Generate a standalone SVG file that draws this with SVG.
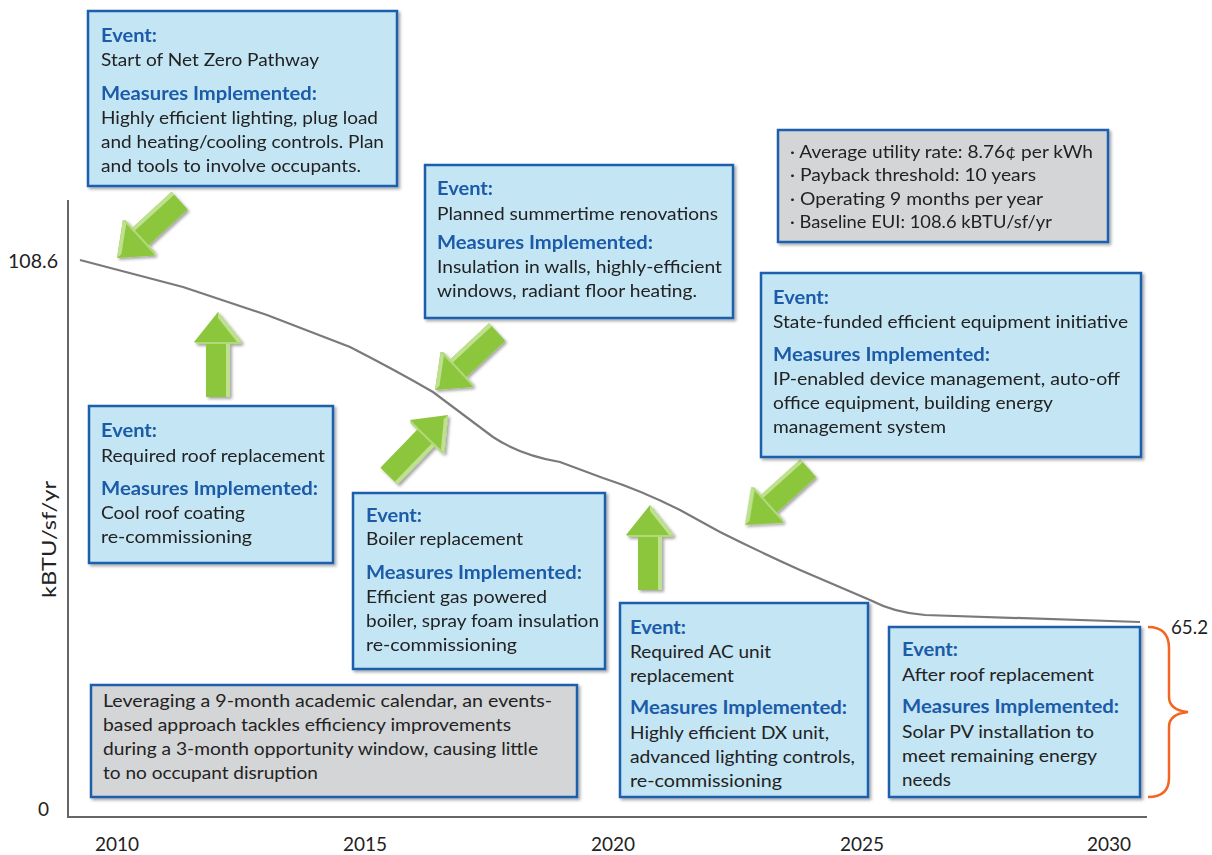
<svg xmlns="http://www.w3.org/2000/svg" width="1212" height="855" viewBox="0 0 1212 855">
<style>
.box{fill:#c4e5f4;stroke:#1b5fad;stroke-width:2.5;filter:url(#sh)}
.gbox{fill:#d4d5d7;stroke:#1b5fad;stroke-width:2.5;filter:url(#sh)}
text{font-family:Lato,"Liberation Sans",sans-serif;font-size:18px;fill:#222}
.h{font-weight:bold;fill:#1b5ba8}
.ax{font-size:19px;fill:#222}
</style>
<defs>
<filter id="sh" x="-10%" y="-10%" width="130%" height="130%">
<feDropShadow dx="2" dy="2" stdDeviation="1.5" flood-color="#000" flood-opacity="0.35"/>
</filter>
<g id="arrow">
<polygon points="0,0 24,30 12,30 12,85 -12,85 -12,30 -24,30" fill="#8cc63e"/>
<polygon points="0,0 24,30 19,30 0,6" fill="#bfe08f"/>
<polygon points="8,30 12,30 12,85 8,85" fill="#bfe08f"/>
<polygon points="-24,30 24,30 22,32 -21,32" fill="#b2d97a"/>
</g>
</defs>
<rect width="1212" height="855" fill="#fff"/>

<g id="axes" stroke="#666" stroke-width="2" fill="none">
<path d="M68,200 L68,817 L1147,817"/>
</g>
<g id="axis-labels">
<text class="ax" x="8" y="268" textLength="50" lengthAdjust="spacingAndGlyphs">108.6</text>
<text class="ax" x="38" y="816">0</text>
<text class="ax" x="1171" y="634" font-size="20" textLength="37" lengthAdjust="spacingAndGlyphs">65.2</text>
<text class="ax" transform="translate(56,598) rotate(-90)" textLength="117" lengthAdjust="spacingAndGlyphs">kBTU/sf/yr</text>
<text class="ax" x="117" y="851" text-anchor="middle">2010</text>
<text class="ax" x="365" y="851" text-anchor="middle">2015</text>
<text class="ax" x="613" y="851" text-anchor="middle">2020</text>
<text class="ax" x="862" y="851" text-anchor="middle">2025</text>
<text class="ax" x="1109" y="851" text-anchor="middle">2030</text>
</g>

<g id="connectors">
<path id="curve" d="M80,260 L183,287 L267,315 L350,347 Q395,370 433,392 L493,437 Q520,455 560,462 L603,478 Q640,490 680,510 L720,532 Q760,552 800,570 L870,600 Q895,613 925,615 L1140,622" fill="none" stroke="#7a7a7a" stroke-width="2.2"/>
<path id="brace" d="M1148,627 Q1169,627 1169,648 L1169,697 Q1169,710 1188,712 Q1169,714 1169,727 L1169,778 Q1169,797 1148,797" fill="none" stroke="#f26522" stroke-width="2.5"/>
<g filter="url(#sh)">
<use href="#arrow" transform="translate(117,258) rotate(-132.5)"/>
<use href="#arrow" transform="translate(218,312)"/>
<use href="#arrow" transform="translate(435,390) rotate(-133)"/>
<use href="#arrow" transform="translate(448,415) rotate(44)"/>
<use href="#arrow" transform="translate(650,505)"/>
<use href="#arrow" transform="translate(745,525) rotate(-132)"/>
</g>
</g>

<g id="n-start">
<rect class="box" x="88" y="11" width="309" height="175"/>
<text class="h" x="101" y="42" textLength="56" lengthAdjust="spacingAndGlyphs">Event:</text>
<text x="101" y="66" textLength="218" lengthAdjust="spacingAndGlyphs">Start of Net Zero Pathway</text>
<text class="h" x="101" y="100" textLength="216" lengthAdjust="spacingAndGlyphs">Measures Implemented:</text>
<text x="101" y="124" textLength="277" lengthAdjust="spacingAndGlyphs">Highly efficient lighting, plug load</text>
<text x="101" y="148" textLength="283" lengthAdjust="spacingAndGlyphs">and heating/cooling controls. Plan</text>
<text x="101" y="172" textLength="260" lengthAdjust="spacingAndGlyphs">and tools to involve occupants.</text>
</g>

<g id="n-planned">
<rect class="box" x="425" y="165" width="308" height="153"/>
<text class="h" x="437" y="195" textLength="56" lengthAdjust="spacingAndGlyphs">Event:</text>
<text x="437" y="220" textLength="281" lengthAdjust="spacingAndGlyphs">Planned summertime renovations</text>
<text class="h" x="437" y="249" textLength="216" lengthAdjust="spacingAndGlyphs">Measures Implemented:</text>
<text x="437" y="273" textLength="285" lengthAdjust="spacingAndGlyphs">Insulation in walls, highly-efficient</text>
<text x="437" y="297" textLength="260" lengthAdjust="spacingAndGlyphs">windows, radiant floor heating.</text>
</g>

<g id="n-stats">
<rect class="gbox" x="778" y="130" width="330" height="112"/>
<text x="790" y="158" textLength="303" lengthAdjust="spacingAndGlyphs">· Average utility rate: 8.76¢ per kWh</text>
<text x="790" y="181" textLength="246" lengthAdjust="spacingAndGlyphs">· Payback threshold: 10 years</text>
<text x="790" y="205" textLength="253" lengthAdjust="spacingAndGlyphs">· Operating 9 months per year</text>
<text x="790" y="228" textLength="262" lengthAdjust="spacingAndGlyphs">· Baseline EUI: 108.6 kBTU/sf/yr</text>
</g>

<g id="n-roof">
<rect class="box" x="89" y="406" width="244" height="157"/>
<text class="h" x="101" y="437" textLength="56" lengthAdjust="spacingAndGlyphs">Event:</text>
<text x="101" y="462" textLength="224" lengthAdjust="spacingAndGlyphs">Required roof replacement</text>
<text class="h" x="101" y="495" textLength="217" lengthAdjust="spacingAndGlyphs">Measures Implemented:</text>
<text x="101" y="519" textLength="144" lengthAdjust="spacingAndGlyphs">Cool roof coating</text>
<text x="101" y="543" textLength="151" lengthAdjust="spacingAndGlyphs">re-commissioning</text>
</g>

<g id="n-boiler">
<rect class="box" x="353" y="493" width="252" height="176"/>
<text class="h" x="366" y="522" textLength="56" lengthAdjust="spacingAndGlyphs">Event:</text>
<text x="366" y="545" textLength="157" lengthAdjust="spacingAndGlyphs">Boiler replacement</text>
<text class="h" x="366" y="579" textLength="216" lengthAdjust="spacingAndGlyphs">Measures Implemented:</text>
<text x="366" y="603" textLength="181" lengthAdjust="spacingAndGlyphs">Efficient gas powered</text>
<text x="366" y="627" textLength="233" lengthAdjust="spacingAndGlyphs">boiler, spray foam insulation</text>
<text x="366" y="651" textLength="151" lengthAdjust="spacingAndGlyphs">re-commissioning</text>
</g>

<g id="n-state">
<rect class="box" x="761" y="273" width="380" height="184"/>
<text class="h" x="773" y="304" textLength="56" lengthAdjust="spacingAndGlyphs">Event:</text>
<text x="773" y="328" textLength="355" lengthAdjust="spacingAndGlyphs">State-funded efficient equipment initiative</text>
<text class="h" x="773" y="361" textLength="217" lengthAdjust="spacingAndGlyphs">Measures Implemented:</text>
<text x="773" y="385" textLength="347" lengthAdjust="spacingAndGlyphs">IP-enabled device management, auto-off</text>
<text x="773" y="409" textLength="280" lengthAdjust="spacingAndGlyphs">office equipment, building energy</text>
<text x="773" y="433" textLength="173" lengthAdjust="spacingAndGlyphs">management system</text>
</g>

<g id="n-ac">
<rect class="box" x="620" y="603" width="248" height="194"/>
<text class="h" x="630" y="634" textLength="56" lengthAdjust="spacingAndGlyphs">Event:</text>
<text x="630" y="658" textLength="141" lengthAdjust="spacingAndGlyphs">Required AC unit</text>
<text x="630" y="682" textLength="104" lengthAdjust="spacingAndGlyphs">replacement</text>
<text class="h" x="630" y="714" textLength="217" lengthAdjust="spacingAndGlyphs">Measures Implemented:</text>
<text x="630" y="739" textLength="199" lengthAdjust="spacingAndGlyphs">Highly efficient DX unit,</text>
<text x="630" y="763" textLength="225" lengthAdjust="spacingAndGlyphs">advanced lighting controls,</text>
<text x="630" y="787" textLength="152" lengthAdjust="spacingAndGlyphs">re-commissioning</text>
</g>

<g id="n-after">
<rect class="box" x="889" y="627" width="251" height="170"/>
<text class="h" x="902" y="656" textLength="56" lengthAdjust="spacingAndGlyphs">Event:</text>
<text x="902" y="681" textLength="192" lengthAdjust="spacingAndGlyphs">After roof replacement</text>
<text class="h" x="902" y="713" textLength="217" lengthAdjust="spacingAndGlyphs">Measures Implemented:</text>
<text x="902" y="738" textLength="192" lengthAdjust="spacingAndGlyphs">Solar PV installation to</text>
<text x="902" y="762" textLength="195" lengthAdjust="spacingAndGlyphs">meet remaining energy</text>
<text x="902" y="786" textLength="49" lengthAdjust="spacingAndGlyphs">needs</text>
</g>

<g id="n-note">
<rect class="gbox" x="91" y="685" width="486" height="112"/>
<text x="103" y="707" textLength="449" lengthAdjust="spacingAndGlyphs">Leveraging a 9-month academic calendar, an events-</text>
<text x="103" y="731" textLength="408" lengthAdjust="spacingAndGlyphs">based approach tackles efficiency improvements</text>
<text x="103" y="755" textLength="435" lengthAdjust="spacingAndGlyphs">during a 3-month opportunity window, causing little</text>
<text x="103" y="779" textLength="215" lengthAdjust="spacingAndGlyphs">to no occupant disruption</text>
</g>
</svg>
